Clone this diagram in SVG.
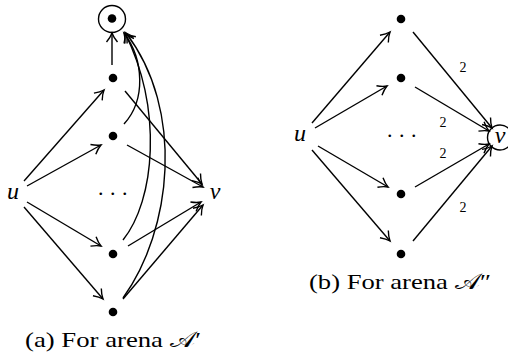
<svg xmlns="http://www.w3.org/2000/svg" width="508" height="352" viewBox="0 0 508 352">
<style>
.e{fill:none;stroke:#000;stroke-width:1.4;marker-end:url(#ar)}
.d{fill:#000}
.t{font-family:"Liberation Serif","DejaVu Serif",serif;fill:#000}
.i{font-style:italic;font-size:24px}
.c{font-size:22px}
.w{font-size:14px}
</style>
<defs>
<marker id="ar" markerUnits="userSpaceOnUse" orient="auto" refX="0" refY="0" markerWidth="24" markerHeight="24" viewBox="-12 -12 24 24" overflow="visible">
<path d="M-9,-5.5 C-5.5,-2.6 -2,-0.7 0,0 C-2,0.7 -5.5,2.6 -9,5.5" fill="none" stroke="#000" stroke-width="1.4"/>
</marker>
</defs>
<g id="a-top"><circle cx="112" cy="19" r="13.5" fill="#fff" stroke="#000" stroke-width="1.4"/><circle class="d" cx="112" cy="18.5" r="4.3"/></g>
<g id="a-n1"><circle class="d" cx="113" cy="78" r="4.3"/></g>
<g id="a-n2"><circle class="d" cx="113" cy="136" r="4.3"/></g>
<g id="a-dots"><text class="t c" x="113" y="195" text-anchor="middle" letter-spacing="0.5">. . .</text></g>
<g id="a-n3"><circle class="d" cx="113" cy="254" r="4.3"/></g>
<g id="a-n4"><circle class="d" cx="113" cy="312" r="4.3"/></g>
<g id="a-u"><text class="t i" x="13" y="199" text-anchor="middle">u</text></g>
<g id="a-v"><text class="t i" x="215" y="199" text-anchor="middle">v</text></g>
<g id="a-conn">
<path class="e" d="M24,181 L104,90"/>
<path class="e" d="M27,186 L101,145"/>
<path class="e" d="M27,202 L101,246"/>
<path class="e" d="M24,207 L103,299"/>
<path class="e" d="M112,65 L112,33"/>
<path class="e" d="M125,91 L202,184"/>
<path class="e" d="M127,145 L203,187"/>
<path class="e" d="M128,246 L201,202"/>
<path class="e" d="M123,299 L203,205"/>
<path class="e" d="M124,124 C146,100 144,60 124,33"/>
<path class="e" d="M123,240 C155,200 163,110 125,33"/>
<path class="e" d="M123,298 C172,230 185,110 126,33"/>
</g>
<text class="t c" x="25" y="347" textLength="176" lengthAdjust="spacingAndGlyphs">(a) For arena 𝒜′</text>
<g id="b-n1"><circle class="d" cx="401" cy="19" r="4.3"/></g>
<g id="b-n2"><circle class="d" cx="401" cy="78" r="4.3"/></g>
<g id="b-dots"><text class="t c" x="402" y="137" text-anchor="middle" letter-spacing="0.5">. . .</text></g>
<g id="b-n3"><circle class="d" cx="401" cy="194" r="4.3"/></g>
<g id="b-n4"><circle class="d" cx="401" cy="254" r="4.3"/></g>
<g id="b-u"><text class="t i" x="300" y="141" text-anchor="middle">u</text></g>
<g id="b-v"><circle cx="500" cy="137.5" r="12.5" fill="#fff" stroke="#000" stroke-width="1.4"/><text class="t i" x="500" y="143" text-anchor="middle">v</text></g>
<g id="b-conn">
<path class="e" d="M312,123 L390,32"/>
<path class="e" d="M315,128 L387,86"/>
<path class="e" d="M318,146 L388,187"/>
<path class="e" d="M312,150 L390,241"/>
<path class="e" d="M413,32 L492,128"/>
<path class="e" d="M415,87 L489,131"/>
<path class="e" d="M415,187 L489,144"/>
<path class="e" d="M413,241 L492,146"/>
<text class="t w" x="463" y="72" text-anchor="middle">2</text>
<text class="t w" x="443" y="127" text-anchor="middle">2</text>
<text class="t w" x="443" y="158" text-anchor="middle">2</text>
<text class="t w" x="463" y="212" text-anchor="middle">2</text>
</g>
<text class="t c" x="309" y="289" textLength="182" lengthAdjust="spacingAndGlyphs">(b) For arena 𝒜″</text>
</svg>
